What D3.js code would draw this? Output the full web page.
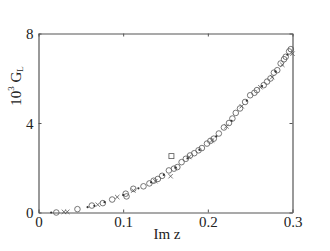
<!DOCTYPE html>
<html><head><meta charset="utf-8">
<script src="https://cdn.jsdelivr.net/npm/d3@7"></script>
<style>body{margin:0;background:#fff}svg{display:block}text{font-family:"Liberation Serif","Times New Roman",serif;fill:#222}</style>
</head><body><svg id="c" width="330" height="251"></svg>
<script>
const xTicks=[0,0.1,0.2,0.3];
const yTicks=[0,4,8];
const circX=[0.021,0.046,0.063,0.076,0.087,0.103,0.104,0.112,0.124,0.131,0.136,0.141,0.146,0.154,0.160,0.164,0.169,0.174,0.179,0.184,0.189,0.193,0.199,0.203,0.207,0.213,0.219,0.225,0.229,0.233,0.238,0.244,0.250,0.255,0.258,0.266,0.270,0.274,0.278,0.282,0.286,0.290,0.292,0.296,0.298];
const circY=[0.00,0.15,0.31,0.42,0.58,0.84,0.72,1.06,1.17,1.30,1.42,1.50,1.64,1.88,1.96,2.03,2.25,2.40,2.55,2.65,2.78,2.88,3.08,3.20,3.30,3.53,3.80,4.00,4.20,4.45,4.65,4.94,5.24,5.35,5.47,5.69,5.85,5.99,6.25,6.36,6.66,6.85,6.96,7.20,7.30];
const crossX=[0.030,0.034,0.070,0.093,0.112,0.138,0.156,0.178,0.205,0.222,0.240,0.262,0.276,0.288,0.300];
const crossY=[0.03,0.03,0.35,0.69,0.98,1.40,1.62,2.48,3.22,3.85,4.75,5.60,6.05,6.60,7.10];
const dotX=[0.015,0.058,0.066,0.078,0.100,0.118,0.133,0.148,0.162,0.176,0.190,0.210,0.228,0.246,0.264,0.280,0.294];
const dotY=[0.00,0.24,0.30,0.46,0.78,1.08,1.35,1.68,2.00,2.42,2.80,3.40,4.10,5.00,5.65,6.30,7.05];
const sqX=[0.157];
const sqY=[2.52];

const svg=d3.select("#c");
const L=38.5,R=292.5,T=33.5,B=212.5;
const x=d3.scaleLinear().domain([0,0.3]).range([L,R]);
const y=d3.scaleLinear().domain([0,8]).range([B,T]);
const col="#555";
const fs=15;

const gx=svg.append("g").attr("transform",`translate(0,${B})`).call(d3.axisBottom(x).tickValues(xTicks).tickSizeInner(-3).tickSizeOuter(0).tickPadding(4).tickFormat(d=>d===0?"0":d3.format(".1f")(d)));
const gxt=svg.append("g").attr("transform",`translate(0,${T})`).call(d3.axisTop(x).tickValues(xTicks).tickSizeInner(-3).tickSizeOuter(0).tickFormat(""));
const gy=svg.append("g").attr("transform",`translate(${L},0)`).call(d3.axisLeft(y).tickValues(yTicks).tickSizeInner(-3).tickSizeOuter(0).tickPadding(5));
const gyr=svg.append("g").attr("transform",`translate(${R},0)`).call(d3.axisRight(y).tickValues(yTicks).tickSizeInner(-3).tickSizeOuter(0).tickFormat(""));
[gx,gxt,gy,gyr].forEach(g=>{g.selectAll("path").attr("stroke",col).attr("stroke-width",1.2);g.selectAll("line").attr("stroke",col);g.selectAll("text").attr("font-family","Liberation Serif").attr("font-size",fs).attr("fill","#222");});
gy.selectAll("text").attr("dy","0.35em");

const mk="#555";
const circ=circX.map((v,i)=>[v,circY[i]]);
svg.append("g").selectAll("circle").data(circ).join("circle").attr("cx",d=>x(d[0])).attr("cy",d=>y(d[1])).attr("r",2.8).attr("fill","none").attr("stroke",mk).attr("stroke-width",0.8);
const cr=crossX.map((v,i)=>[v,crossY[i]]);
const s=2.2;
svg.append("g").selectAll("path").data(cr).join("path").attr("d",d=>{const a=x(d[0]),b=y(d[1]);return `M${a-s},${b-s}L${a+s},${b+s}M${a-s},${b+s}L${a+s},${b-s}`;}).attr("stroke",mk).attr("stroke-width",0.8);
const dt=dotX.map((v,i)=>[v,dotY[i]]);
svg.append("g").selectAll("circle").data(dt).join("circle").attr("cx",d=>x(d[0])).attr("cy",d=>y(d[1])).attr("r",1.1).attr("fill","#333");
const sq=sqX.map((v,i)=>[v,sqY[i]]);
svg.append("g").selectAll("rect").data(sq).join("rect").attr("x",d=>x(d[0])-2.5).attr("y",d=>y(d[1])-2.5).attr("width",5).attr("height",5).attr("fill","none").attr("stroke",mk).attr("stroke-width",0.8);

svg.append("text").attr("x",167).attr("y",239).attr("text-anchor","middle").attr("font-size",fs).text("Im z");
const yl=svg.append("text").attr("transform","translate(21,86) rotate(-90)").attr("text-anchor","middle").attr("font-size",fs);
yl.append("tspan").text("10");
yl.append("tspan").attr("font-size",9).attr("dy",-7).text("3");
yl.append("tspan").attr("dy",7).text(" G");
yl.append("tspan").attr("font-size",9).attr("dy",2).text("L");
</script></body></html>
